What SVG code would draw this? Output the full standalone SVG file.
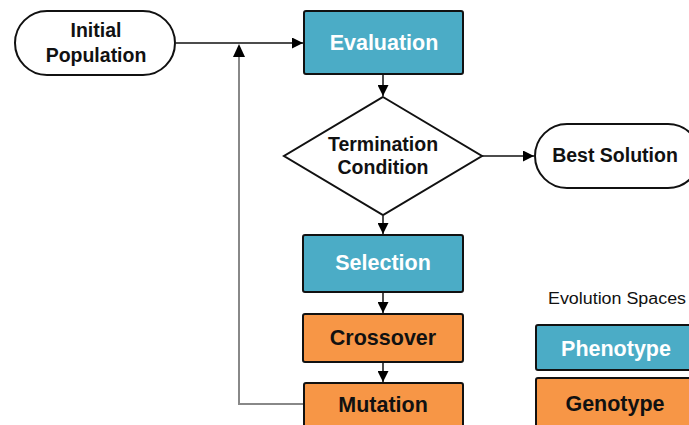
<svg xmlns="http://www.w3.org/2000/svg" width="689" height="425" viewBox="0 0 689 425">
<defs>
<marker id="ah" viewBox="0 0 10 10" refX="10" refY="5" markerWidth="11" markerHeight="11" markerUnits="userSpaceOnUse" orient="auto">
<path d="M0,0 L10,5 L0,10 Z" fill="#000"/>
</marker>
</defs>
<style>
.lbl{font-family:"Liberation Sans",Arial,sans-serif;font-weight:bold;text-anchor:middle}
.dark{fill:#111}
.white{fill:#fff}
.blue{fill:#4BACC6;stroke:#111;stroke-width:2}
.orange{fill:#F79646;stroke:#111;stroke-width:2}
.term{fill:#fff;stroke:#111;stroke-width:2}
.edge{fill:none;stroke:#111;stroke-width:1.5}
.back{fill:none;stroke:#888;stroke-width:2}
</style>
<rect width="689" height="425" fill="#fff"/>
<g id="connectors">
<path class="edge" d="M176,43 H303" marker-end="url(#ah)"/>
<path class="back" d="M303,404 H239 V54"/>
<path d="M233,57 L239,44 L245,57 Z" fill="#000"/>
<path class="edge" d="M383,74 V96" marker-end="url(#ah)"/>
<path class="edge" d="M383,216 V234" marker-end="url(#ah)"/>
<path class="edge" d="M482,156 H534" marker-end="url(#ah)"/>
<path class="edge" d="M383,292 V313" marker-end="url(#ah)"/>
<path class="edge" d="M383,362 V382" marker-end="url(#ah)"/>
</g>
<g id="initial-population">
<rect class="term" x="15" y="11" width="160" height="64" rx="32"/>
<text class="lbl dark" font-size="19.5" x="96" y="37">Initial</text>
<text class="lbl dark" font-size="19.5" x="96" y="62">Population</text>
</g>
<g id="evaluation">
<rect class="blue" x="304" y="11" width="159" height="63" rx="2"/>
<text class="lbl white" font-size="21.5" x="384" y="50">Evaluation</text>
</g>
<g id="termination-condition">
<polygon class="term" points="383,97 482,156 383,215 284,156"/>
<text class="lbl dark" font-size="19.5" x="383" y="151">Termination</text>
<text class="lbl dark" font-size="19.5" x="383" y="174">Condition</text>
</g>
<g id="best-solution">
<rect class="term" x="535" y="124" width="165" height="64" rx="32"/>
<text class="lbl dark" font-size="19.5" x="615" y="162">Best Solution</text>
</g>
<g id="selection">
<rect class="blue" x="303" y="235" width="160" height="57" rx="2"/>
<text class="lbl white" font-size="21.5" x="383" y="270">Selection</text>
</g>
<g id="crossover">
<rect class="orange" x="303" y="314" width="160" height="48" rx="2"/>
<text class="lbl dark" font-size="21.5" x="383" y="345">Crossover</text>
</g>
<g id="mutation">
<rect class="orange" x="304" y="383" width="159" height="50" rx="2"/>
<text class="lbl dark" font-size="21.5" x="383" y="412">Mutation</text>
</g>
<g id="legend">
<text x="617" y="304" font-family="Liberation Sans,Arial,sans-serif" font-size="16" fill="#111" text-anchor="middle" textLength="138" lengthAdjust="spacingAndGlyphs">Evolution Spaces</text>
<rect class="blue" x="536" y="325" width="165" height="45" rx="2"/>
<text class="lbl white" font-size="21.5" x="616" y="356">Phenotype</text>
<rect class="orange" x="536" y="378" width="165" height="55" rx="2"/>
<text class="lbl dark" font-size="21.5" x="615" y="411">Genotype</text>
</g>
</svg>
